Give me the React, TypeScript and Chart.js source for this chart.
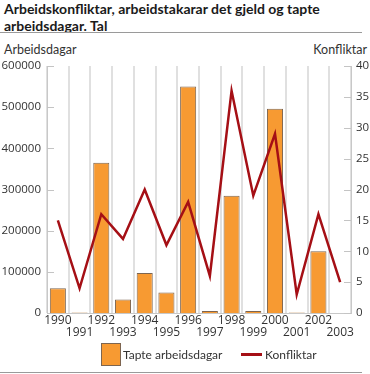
import React, { useEffect, useRef } from "react";
import { Chart, registerables } from "chart.js";

Chart.register(...registerables);

const TITLE = "Arbeidskonfliktar, arbeidstakarar det gjeld og tapte arbeidsdagar. Tal";
const LEFT_AXIS_TITLE = "Arbeidsdagar";
const RIGHT_AXIS_TITLE = "Konfliktar";
const years = ["1990", "1991", "1992", "1993", "1994", "1995", "1996", "1997", "1998", "1999", "2000", "2001", "2002", "2003"];
const tapteArbeidsdagar = [60000, 1500, 365000, 33000, 97000, 50000, 550000, 5000, 285000, 5000, 496000, 1000, 150000, 0];
const konfliktar = [15, 4, 16, 12, 20, 11, 18, 6, 36, 19, 29, 3, 16, 5];
const barLabel = "Tapte arbeidsdagar";
const lineLabel = "Konfliktar";

const BAR_COLOR = "#f79a32";
const BAR_BORDER = "#7d6550";
const LINE_COLOR = "#a50f15";
const FONT = "'Open Sans', 'DejaVu Sans', sans-serif";
const HFONT = "Lato, 'Open Sans', sans-serif";

const innerTicks = {
  id: "innerTicks",
  afterDraw(chart: any) {
    const ctx = chart.ctx;
    ctx.save();
    ctx.strokeStyle = "#c4c4c4";
    ctx.lineWidth = 1;
    ["y", "y1"].forEach((id) => {
      const s = chart.scales[id];
      if (!s) return;
      s.ticks.forEach((t: any) => {
        const py = Math.round(s.getPixelForValue(t.value)) + 0.5;
        ctx.beginPath();
        if (id === "y") {
          ctx.moveTo(s.right, py);
          ctx.lineTo(s.right + 7, py);
        } else {
          ctx.moveTo(s.left - 7, py);
          ctx.lineTo(s.left, py);
        }
        ctx.stroke();
      });
    });
    ctx.restore();
  },
};

function ChartCanvas() {
  const ref = useRef<HTMLCanvasElement>(null);
  useEffect(() => {
    document.body.style.margin = "0";
    const chart = new Chart(ref.current as HTMLCanvasElement, {
      type: "bar",
      data: {
        labels: years,
        datasets: [
          {
            type: "bar",
            label: barLabel,
            data: tapteArbeidsdagar,
            backgroundColor: BAR_COLOR,
            borderColor: BAR_BORDER,
            borderWidth: 1,
            yAxisID: "y",
            order: 2,
            categoryPercentage: 0.74,
            barPercentage: 1,
          } as any,
          {
            type: "line",
            label: lineLabel,
            data: konfliktar,
            borderColor: LINE_COLOR,
            borderWidth: 2.5,
            pointRadius: 0,
            tension: 0,
            yAxisID: "y1",
            order: 1,
          } as any,
        ],
      },
      options: {
        animation: false,
        responsive: false,
        maintainAspectRatio: false,
        layout: { padding: { top: 30, bottom: 0, left: 0, right: 0 } },
        plugins: { legend: { display: false }, tooltip: { enabled: false }, title: { display: false } },
        scales: {
          x: {
            offset: true,
            grid: { offset: true, color: "#e0e0e0", lineWidth: 2, drawTicks: false },
            border: { display: true, color: "#c8c8c8" },
            ticks: {
              padding: 1,
              color: "#333",
              font: { family: FONT, size: 12, lineHeight: 1.05 },
              maxRotation: 0,
              autoSkip: false,
              callback: (v: any, i: number) => (i % 2 === 0 ? years[i] : ["", years[i]]),
            },
            afterFit: (s: any) => { s.height = 35; },
          },
          y: {
            position: "left",
            min: 0,
            max: 600000,
            grid: { display: false, drawTicks: false },
            border: { display: true, color: "#c8c8c8" },
            ticks: { stepSize: 100000, padding: 6, color: "#333", font: { family: FONT, size: 11.5 }, callback: (v: any) => String(v) },
            afterFit: (s: any) => { s.width = 47; },
          },
          y1: {
            position: "right",
            min: 0,
            max: 40,
            grid: { display: false, drawTicks: false },
            border: { display: true, color: "#c8c8c8" },
            ticks: { stepSize: 5, padding: 5, color: "#333", font: { family: FONT, size: 11.5 }, callback: (v: any) => String(v) },
            afterFit: (s: any) => { s.width = 19; },
          },
        },
      },
      plugins: [innerTicks],
    });
    return () => chart.destroy();
  }, []);
  return <canvas ref={ref} width={370} height={312} style={{ position: "absolute", left: 0, top: 36, width: 370, height: 312 }} />;
}

export default function App() {
  return (
    <div style={{ position: "relative", width: 370, height: 374, fontFamily: HFONT, color: "#222", overflow: "hidden", background: "#fff" }}>
      <div style={{ position: "absolute", left: 4, top: 0, width: 340, fontWeight: 700, fontSize: 14, lineHeight: "17px", color: "#1a1a1a" }}>{TITLE}</div>
      <div style={{ position: "absolute", left: 0, top: 32, width: 362, height: 1, background: "#9a9a9a" }} />
      <div style={{ position: "absolute", left: 4, top: 42, fontSize: 12.5, color: "#333" }}>{LEFT_AXIS_TITLE}</div>
      <div style={{ position: "absolute", right: 3, top: 42, fontSize: 12.5, color: "#333" }}>{RIGHT_AXIS_TITLE}</div>
      <ChartCanvas />
      <div style={{ position: "absolute", left: 101, top: 343, width: 18, height: 21, background: BAR_COLOR, border: `1px solid ${BAR_BORDER}` }} />
      <div style={{ position: "absolute", left: 123, top: 346, fontSize: 12, color: "#333", lineHeight: "17px" }}>{barLabel}</div>
      <div style={{ position: "absolute", left: 241, top: 353, width: 21, height: 3, background: LINE_COLOR }} />
      <div style={{ position: "absolute", left: 265, top: 346, fontSize: 12, color: "#333", lineHeight: "17px" }}>{lineLabel}</div>
      <div style={{ position: "absolute", left: 0, top: 372, width: 362, height: 1, background: "#9a9a9a" }} />
    </div>
  );
}
